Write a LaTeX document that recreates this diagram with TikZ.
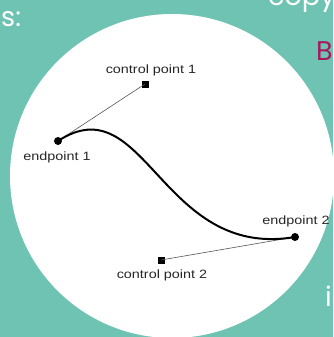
\documentclass[tikz,border=0pt]{standalone}
\usepackage{fontspec}
\setmainfont{Liberation Sans}
\newfontfamily\slidefont{Poppins}
\definecolor{teal1}{HTML}{6EC3B2}
\definecolor{mag}{HTML}{A8175F}
\definecolor{linegray}{HTML}{555555}
\begin{document}
\begin{tikzpicture}[x=1pt,y=-1pt,
  lbl/.style={font=\fontsize{12}{14}\selectfont, xscale=1.2, inner sep=0pt, text=black!85},
  endpt/.style={circle, fill=black, minimum size=8pt, inner sep=0pt},
  ctrlpt/.style={rectangle, fill=black, minimum size=7pt, inner sep=0pt},
  slide/.style={font=\slidefont\fontsize{27}{30}\selectfont, text=white, inner sep=0pt, anchor=base west}]
\useasboundingbox (0,0) rectangle (333,337);
\fill[teal1] (0,0) rectangle (333,337);
\begin{scope}
\clip (0,0) rectangle (333,337);
\fill[white] (172,176) circle (162);
\node[slide] (s) at (1,27) {s:};
\node[slide] (copy) at (268,6) {copy.};
\node[slide, text=mag] (b) at (316,60) {B};
\node[slide] (i) at (325,306) {i};
\end{scope}
\node[endpt] (e1) at (58,141) {};
\node[ctrlpt] (c1) at (145,84) {};
\node[ctrlpt] (c2) at (161,260) {};
\node[endpt] (e2) at (295,237) {};
\draw[linegray, line width=0.6pt] (e1.center) -- (c1.center);
\draw[linegray, line width=0.6pt] (c2.center) -- (e2.center);
\draw[line width=2pt] (e1.center) .. controls (c1.center) and (c2.center) .. (e2.center);
\node[lbl] (l1) at (151,70) {control point 1};
\node[lbl] (l2) at (162,275) {control point 2};
\node[lbl] (l3) at (57,157) {endpoint 1};
\node[lbl] (l4) at (296,221) {endpoint 2};
\end{tikzpicture}
\end{document}
